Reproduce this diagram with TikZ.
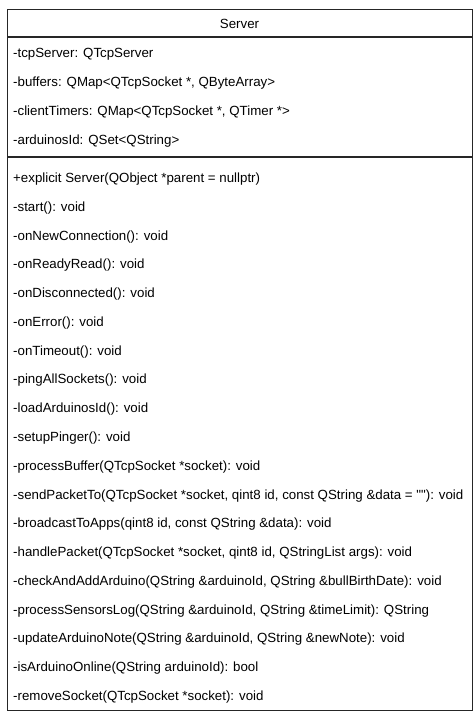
\documentclass[tikz,border=0pt]{standalone}
\usepackage{fontspec}
\setmainfont{Liberation Sans}
\begin{document}
\begin{tikzpicture}[x=1pt,y=-1pt,
  member/.style={anchor=west,inner sep=0pt,font=\fontsize{13.3}{15}\selectfont},
  boxline/.style={draw=black!85,line width=1.2pt}]
\useasboundingbox (0,0) rectangle (474,715);
\node[draw=black!85,line width=1.2pt,minimum width=465pt,minimum height=701pt,anchor=north west,inner sep=0pt] (cls) at (7,9) {};
\coordinate (h1) at (7,37);
\coordinate (h2) at (472,37);
\coordinate (d1) at (7,157);
\coordinate (d2) at (472,157);
\draw[boxline] (h1) -- (h2);
\draw[boxline] (d1) -- (d2);
\node[inner sep=0pt,font=\fontsize{13.3}{15}\selectfont] (title) at (239.5,24) {Server};
\foreach \t [count=\i] in {
  -tcpServer: QTcpServer,
  -buffers: QMap<QTcpSocket *{,} QByteArray>,
  -clientTimers: QMap<QTcpSocket *{,} QTimer *>,
  -arduinosId: QSet<QString>}
  \node[member] (a\i) at (13,{54+(\i-1)*29}) {\t};
\foreach \t [count=\i] in {
  +explicit Server(QObject *parent = nullptr),
  -start(): void,
  -onNewConnection(): void,
  -onReadyRead(): void,
  -onDisconnected(): void,
  -onError(): void,
  -onTimeout(): void,
  -pingAllSockets(): void,
  -loadArduinosId(): void,
  -setupPinger(): void,
  -processBuffer(QTcpSocket *socket): void,
  -sendPacketTo(QTcpSocket *socket{,} qint8 id{,} const QString \&data = \textquotedbl\textquotedbl): void,
  -broadcastToApps(qint8 id{,} const QString \&data): void,
  -handlePacket(QTcpSocket *socket{,} qint8 id{,} QStringList args): void,
  -checkAndAddArduino(QString \&arduinoId{,} QString \&bullBirthDate): void,
  -processSensorsLog(QString \&arduinoId{,} QString \&timeLimit): QString,
  -updateArduinoNote(QString \&arduinoId{,} QString \&newNote): void,
  -isArduinoOnline(QString arduinoId): bool,
  -removeSocket(QTcpSocket *socket): void}
  \node[member] (m\i) at (13,{179+(\i-1)*28.78}) {\t};
\end{tikzpicture}
\end{document}
